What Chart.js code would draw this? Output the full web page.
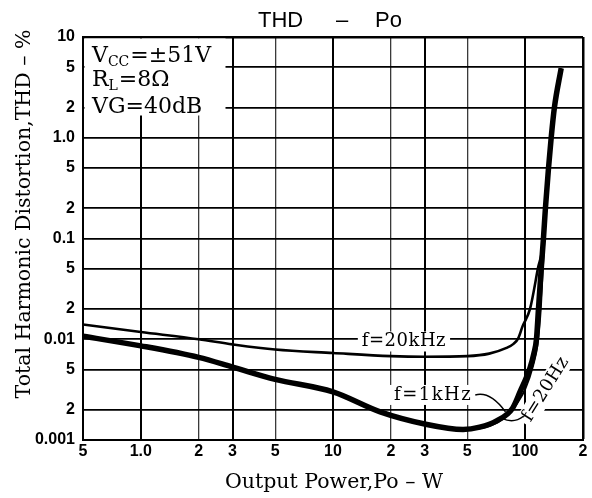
<!DOCTYPE html>
<html><head><meta charset="utf-8">
<script src="https://cdn.jsdelivr.net/npm/chart.js@4"></script>
<style>html,body{margin:0;padding:0;background:#fff;}</style>
</head><body>
<canvas id="c" width="592" height="498"></canvas>
<script>
// ---- data ----
const xTickValues = [0.5, 1, 2, 3, 5, 10, 20, 30, 50, 100, 200];
const xTickLabels = ['5', '1.0', '2', '3', '5', '10', '2', '3', '5', '100', '2'];
const yTickValues = [0.001, 0.002, 0.005, 0.01, 0.02, 0.05, 0.1, 0.2, 0.5, 1, 2, 5, 10];
const yTickLabels = ['0.001', '2', '5', '0.01', '2', '5', '0.1', '2', '5', '1.0', '2', '5', '10'];

const power20k = [0.5, 1, 2, 3, 5, 10, 20, 30, 50, 65, 80, 87, 92, 97, 106, 116.4, 124.5, 127, 132.3, 136.6, 142, 154];
const thd20k   = [0.014, 0.0118, 0.0100, 0.0089, 0.0079, 0.0073, 0.0068, 0.0067, 0.0068, 0.0072, 0.0082, 0.0090, 0.0102, 0.0135, 0.020, 0.050, 0.10, 0.20, 0.50, 1.0, 2.0, 4.9];

const power1k = [0.5, 1, 2, 3, 5, 10, 17.6, 30, 47.5, 58, 71, 86, 94, 106, 111, 114.5, 117.3, 121.2, 124.5, 127.5, 132.3, 136.6, 142, 154];
const thd1k   = [0.0107, 0.0086, 0.0066, 0.0053, 0.0040, 0.0030, 0.0019, 0.00144, 0.00127, 0.00134, 0.00155, 0.00207, 0.0030, 0.0052, 0.0072, 0.0100, 0.020, 0.050, 0.10, 0.20, 0.50, 1.0, 2.0, 4.9];

const power20 = [0.5, 1, 2, 3, 5, 10, 17.6, 30, 47.5, 60, 72, 82, 92, 100, 110, 116, 120.5, 123.5, 126, 128.5, 132.3];
const thd20   = [0.0107, 0.0086, 0.0066, 0.0053, 0.0040, 0.0030, 0.0019, 0.00144, 0.00127, 0.00132, 0.0015, 0.0018, 0.0024, 0.0032, 0.0055, 0.0090, 0.020, 0.050, 0.10, 0.20, 0.50];

const chartTitle = ['THD', '–', 'Po'];
const xTitle = 'Output Power,Po – W';
const yTitle = 'Total Harmonic Distortion,THD – %';
const curveLabels = ['f=20kHz', 'f=1kHz', 'f=20Hz'];

const SERIF = '"DejaVu Serif", "Liberation Serif", serif';
const SANS = '"Liberation Sans", Arial, sans-serif';

function pts(xs, ys) { return xs.map((x, i) => ({ x: x, y: ys[i] })); }

function xGridColor(ctx) {
  const v = ctx.tick && ctx.tick.value;
  return [0.5, 1, 3, 10, 30, 100, 200].includes(v) ? '#000' : '#3a3a3a';
}
function xGridWidth(ctx) {
  const v = ctx.tick && ctx.tick.value;
  if (v === 200) return 2.5;
  return [0.5, 1, 3, 10, 30, 100].includes(v) ? 2 : 1.3;
}
function yGridWidth(ctx) {
  const v = ctx.tick && ctx.tick.value;
  return v === 10 ? 2.5 : 1.8;
}

function textBox(c, text, cx, cy, font, spacing) {
  c.font = font;
  c.letterSpacing = spacing || '0px';
  const w = c.measureText(text).width;
  c.fillStyle = '#fff';
  c.fillRect(cx - w / 2 - 4, cy - 10, w + 8, 20);
  c.fillStyle = '#000';
  c.textAlign = 'center';
  c.textBaseline = 'middle';
  c.fillText(text, cx, cy);
  c.letterSpacing = '0px';
  return w;
}

let oneKRight = 0;

const annot = {
  id: 'annot',
  beforeDatasetsDraw(chart) {
    const c = chart.ctx, a = chart.chartArea;
    const xs = chart.scales.x, ys = chart.scales.y;
    c.save();
    // condition box
    const big = '22px ' + SERIF, sub = '14px ' + SERIF;
    c.fillStyle = '#fff';
    c.fillRect(a.left + 1.5, a.top + 1.5, 141, 77);
    c.fillStyle = '#000';
    c.textAlign = 'left';
    c.textBaseline = 'alphabetic';
    const x0 = a.left + 9;
    function run(parts, base) {
      let x = x0;
      parts.forEach(p => {
        c.font = p[1] ? sub : big;
        c.fillText(p[0], x, base + (p[1] ? 4 : 0));
        x += c.measureText(p[0]).width + (p[1] ? 1 : 0);
      });
    }
    run([['V', 0], ['CC', 1], ['=±51V', 0]], a.top + 25);
    run([['R', 0], ['L', 1], ['=8Ω', 0]], a.top + 49);
    run([['VG=40dB', 0]], a.top + 76);

    // curve labels
    const lf = '18px ' + SERIF;
    textBox(c, curveLabels[0], xs.getPixelForValue(23.4), ys.getPixelForValue(0.0095), lf, '0.5px');
    const cx1 = xs.getPixelForValue(33.2);
    const w1 = textBox(c, curveLabels[1], cx1, ys.getPixelForValue(0.0028), lf, '1.5px');
    oneKRight = cx1 + w1 / 2;
    // rotated 20Hz
    const rx = xs.getPixelForValue(128), ry = ys.getPixelForValue(0.0032);
    c.translate(rx, ry);
    c.rotate(-58 * Math.PI / 180);
    textBox(c, curveLabels[2], 0, 0, lf, '0.5px');
    c.restore();
  },
  afterDatasetsDraw(chart) {
    const c = chart.ctx;
    const xs = chart.scales.x, ys = chart.scales.y;
    c.save();
    c.strokeStyle = '#000';
    c.lineWidth = 1.5;
    // 1kHz leader
    const ax = oneKRight + 3, ay = ys.getPixelForValue(0.0028);
    const bx = xs.getPixelForValue(79), by = ys.getPixelForValue(0.0019);
    c.beginPath();
    c.moveTo(ax, ay);
    c.quadraticCurveTo(ax + 15, ay - 4, bx, by);
    c.stroke();
    // 20Hz leader
    const dx = xs.getPixelForValue(76), dy = ys.getPixelForValue(0.00163);
    const ex = xs.getPixelForValue(98), ey = ys.getPixelForValue(0.00172);
    c.beginPath();
    c.moveTo(dx, dy);
    c.quadraticCurveTo(dx + 12, dy + 5, ex, ey);
    c.stroke();
    c.restore();
  },
  afterDraw(chart) {
    const c = chart.ctx, a = chart.chartArea;
    const cx = (a.left + a.right) / 2;
    c.save();
    c.fillStyle = '#000';
    c.textBaseline = 'alphabetic';
    c.font = '22px ' + SANS;
    c.textAlign = 'left';
    c.fillText(chartTitle[0], cx - 75, 27);
    c.textAlign = 'center';
    c.fillText(chartTitle[1], cx + 9, 27);
    c.textAlign = 'left';
    c.fillText(chartTitle[2], cx + 42, 27);
    // axis titles
    c.font = '20.5px ' + SERIF;
    c.textAlign = 'center';
    c.fillText(xTitle, cx + 1, 488);
    c.translate(30, 214);
    c.rotate(-Math.PI / 2);
    c.fillText(yTitle, 0, 0);
    c.restore();
  }
};

new Chart(document.getElementById('c'), {
  type: 'line',
  data: {
    datasets: [
      { label: curveLabels[0], data: pts(power20k, thd20k), borderColor: '#000', borderWidth: 2.6, pointRadius: 0, cubicInterpolationMode: 'monotone', fill: false },
      { label: curveLabels[1], data: pts(power1k, thd1k), borderColor: '#000', borderWidth: 5.5, pointRadius: 0, cubicInterpolationMode: 'monotone', fill: false },
      { label: curveLabels[2], data: pts(power20, thd20), borderColor: '#000', borderWidth: 2, pointRadius: 0, cubicInterpolationMode: 'monotone', fill: false }
    ]
  },
  options: {
    responsive: false,
    animation: false,
    layout: { padding: { left: 0, right: 9, top: 37, bottom: 0 } },
    plugins: { legend: { display: false }, tooltip: { enabled: false }, title: { display: false } },
    scales: {
      x: {
        type: 'logarithmic', min: 0.5, max: 200,
        afterBuildTicks(s) { s.ticks = xTickValues.map(v => ({ value: v })); },
        afterFit(s) { s.height = 58; },
        ticks: { autoSkip: false, maxRotation: 0, minRotation: 0, padding: 2, color: '#000',
                 font: { family: SANS, size: 16, weight: 'bold' },
                 callback: (v, i) => xTickLabels[i] },
        grid: { drawTicks: false, color: xGridColor, lineWidth: xGridWidth },
        border: { display: true, color: '#000', width: 2 }
      },
      y: {
        type: 'logarithmic', min: 0.001, max: 10,
        afterBuildTicks(s) { s.ticks = yTickValues.map(v => ({ value: v })); },
        afterFit(s) { s.width = 83; },
        ticks: { autoSkip: false, padding: 8, color: '#000',
                 font: { family: SANS, size: 16, weight: 'bold' },
                 callback: (v, i) => yTickLabels[i] },
        grid: { drawTicks: false, color: '#000', lineWidth: yGridWidth },
        border: { display: true, color: '#000', width: 2 }
      }
    }
  },
  plugins: [annot]
});
</script>
</body></html>
